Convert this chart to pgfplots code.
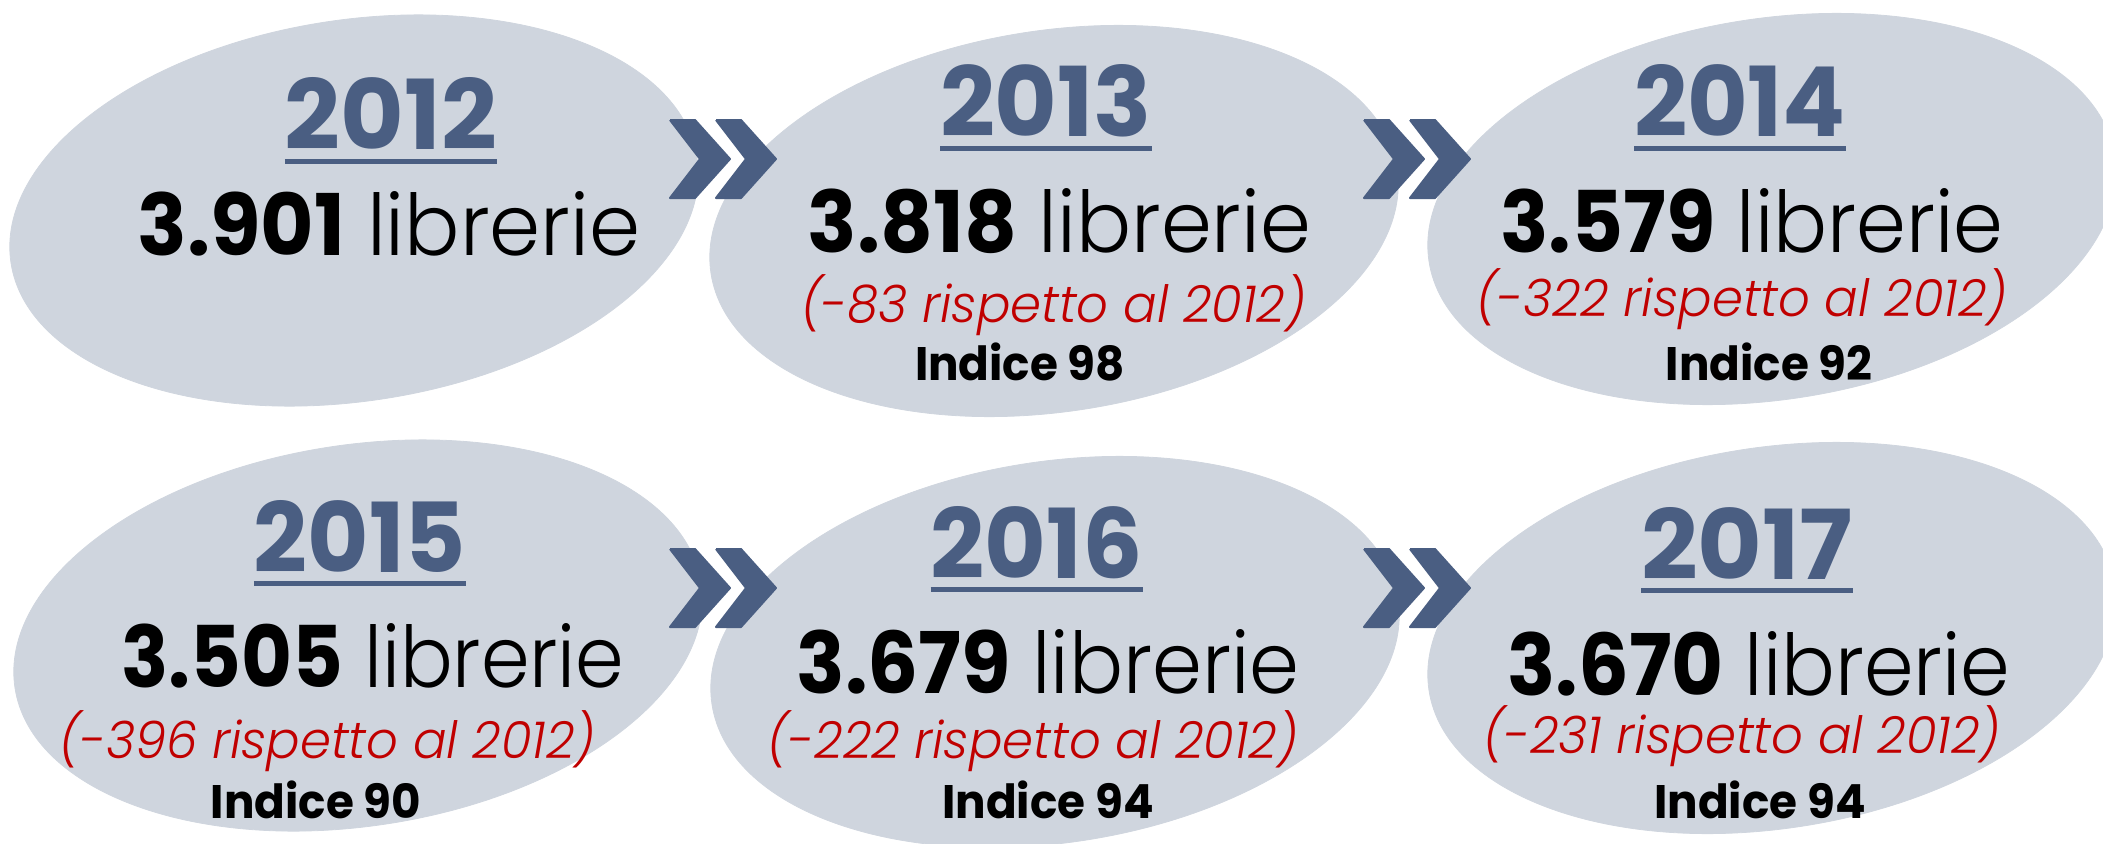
\documentclass[border=0pt]{standalone}
\usepackage{pgfplots}
\pgfplotsset{compat=1.18}
\usepackage{pgfplotstable}
\usepackage{graphicx}
\usepackage{fontspec}
\setmainfont{Poppins}
\newfontfamily\lightfont{Poppins Light}[ItalicFont={Poppins Light Italic}]
\definecolor{ell}{HTML}{CFD5DE}
\definecolor{yearc}{HTML}{4A5E82}
\definecolor{redc}{HTML}{C00000}

\pgfplotstableread{
x y
354 632.5
1054 622
1772 634
358 207.5
1055 191
1772 205
}\ellipses

\pgfplotstableread{
x y label
391 693 2012
1046 706 2013
1740 706 2014
360 271 2015
1036.5 265 2016
1747 264 2017
}\years

\pgfplotstableread{
x y label
389 588 3901
1059.5 591 3818
1752 591 3579
373 156 3505
1048 150 3679
1759 148 3670
}\counts

\pgfplotstableread{
x y label
1053.5 521 -83
1742 527 -322
327.5 85 -396
1033 85 -222
1742 90 -231
}\diffs

\pgfplotstableread{
x y label
1020 463 98
1769 463 92
316 25 90
1048 25 94
1760 25 94
}\indices

\newsavebox\mb
\newcommand\ul[1]{\setbox0=\hbox{#1}\rlap{\color{yearc}\rule[-7pt]{\wd0}{2.5pt}}\box0}
\newcommand\yr[1]{\ul{\resizebox{106pt}{36pt}{\color{yearc}\bfseries #1}}}
\newcommand\num[1]{\resizebox{251.5pt}{32pt}{{\bfseries\pgfmathprintnumber[assume math mode=true,1000 sep={.},fixed,precision=0]{#1}} {\lightfont librerie}}}
\newcommand\dif[1]{\scalebox{\rsx}[\rsy]{\color{redc}\lightfont\itshape (#1 rispetto al 2012)}}
\newcommand\ind[1]{\scalebox{\isx}[\isy]{\bfseries Indice #1}}

\begin{document}
\sbox\mb{\lightfont\itshape 0}\pgfmathsetmacro\rsy{18.5/\the\ht\mb}%
\sbox\mb{\lightfont\itshape (-83 rispetto al 2012)}\pgfmathsetmacro\rsx{252.5/\the\wd\mb}%
\sbox\mb{\bfseries I}\pgfmathsetmacro\isy{16.5/\the\ht\mb}%
\sbox\mb{\bfseries Indice 98}\pgfmathsetmacro\isx{105/\the\wd\mb}%
\begin{tikzpicture}
\begin{axis}[
  width=1051.5pt, height=421.5pt, scale only axis,
  xmin=0, xmax=2103, ymin=0, ymax=843,
  hide axis, clip=false, set layers,
  every node near coord/.append style={anchor=base, inner sep=0pt, outer sep=0pt, black},
]
\coordinate (bl) at (rel axis cs:0,0);
\coordinate (tr) at (rel axis cs:1,1);
\addplot[ell, on layer=axis background, only marks, mark=*, mark size=95.3pt,
  mark options={fill=ell, draw=ell, rotate=8.7, xscale=1.8206}] table[x=x,y=y] {\ellipses};
% chevrons
\pgfplotsset{chev/.style={fill=yearc, draw=yearc, line width=1pt, line join=round, mark=none, on layer=axis foreground}}
\addplot[chev] coordinates {(670,723) (695,723) (730,684) (695,645) (670,645) (700,684) (670,723)};
\addplot[chev] coordinates {(716,723) (741,723) (776,684) (741,645) (716,645) (746,684) (716,723)};
\addplot[chev] coordinates {(1364,723) (1389,723) (1424,684) (1389,645) (1364,645) (1394,684) (1364,723)};
\addplot[chev] coordinates {(1410,723) (1435,723) (1470,684) (1435,645) (1410,645) (1440,684) (1410,723)};
\addplot[chev] coordinates {(670,294) (695,294) (730,255) (695,216) (670,216) (700,255) (670,294)};
\addplot[chev] coordinates {(716,294) (741,294) (776,255) (741,216) (716,216) (746,255) (716,294)};
\addplot[chev] coordinates {(1364,294) (1389,294) (1424,255) (1389,216) (1364,216) (1394,255) (1364,294)};
\addplot[chev] coordinates {(1410,294) (1435,294) (1470,255) (1435,216) (1410,216) (1440,255) (1410,294)};
% texts
\addplot[only marks, mark=none, point meta=explicit symbolic,
  nodes near coords={\yr{\pgfplotspointmeta}}] table[x=x,y=y,meta=label] {\years};
\addplot[only marks, mark=none, point meta=explicit symbolic,
  nodes near coords={\num{\pgfplotspointmeta}}] table[x=x,y=y,meta=label] {\counts};
\addplot[only marks, mark=none, point meta=explicit symbolic,
  nodes near coords={\dif{\pgfplotspointmeta}}] table[x=x,y=y,meta=label] {\diffs};
\addplot[only marks, mark=none, point meta=explicit symbolic,
  nodes near coords={\ind{\pgfplotspointmeta}}] table[x=x,y=y,meta=label] {\indices};
\end{axis}
\pgfresetboundingbox
\useasboundingbox (bl) rectangle (tr);
\end{tikzpicture}
\end{document}
